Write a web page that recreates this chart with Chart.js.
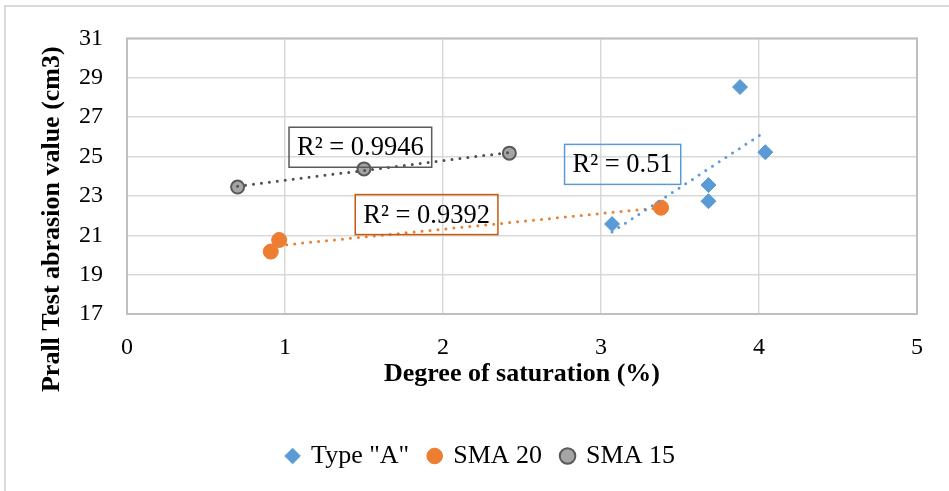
<!DOCTYPE html>
<html>
<head>
<meta charset="utf-8">
<script src="https://cdn.jsdelivr.net/npm/chart.js@4/dist/chart.umd.min.js"></script>
<style>html,body{margin:0;padding:0;background:#fff}</style>
</head>
<body>
<canvas id="c" width="949" height="491"></canvas>
<script>
// ---- data ----
const seriesNames = ['Type "A"', 'SMA 20', 'SMA 15'];
const typeA_x = [3.07, 3.68, 3.68, 3.88, 4.04];
const typeA_y = [21.57, 23.55, 22.73, 28.53, 25.22];
const sma20_x = [0.91, 0.963, 3.38];
const sma20_y = [20.17, 20.76, 22.40];
const sma15_x = [0.70, 1.50, 2.42];
const sma15_y = [23.45, 24.37, 25.17];
const r2Labels = ['R² = 0.51', 'R² = 0.9392', 'R² = 0.9946'];
const xTicks = [0, 1, 2, 3, 4, 5];
const yTicks = [17, 19, 21, 23, 25, 27, 29, 31];
const xTitle = 'Degree of saturation (%)';
const yTitle = 'Prall Test abrasion value (cm3)';

// ---- styling / placement (not data) ----
const FONT = '"Liberation Serif", "Times New Roman", serif';
const colors = ['#5B9BD5', '#ED7D31', '#A5A5A5'];
const trendColors = ['#5B9BD5', '#ED7D31', '#505050'];
const boxColors = ['#5B9BD5', '#C55A11', '#595959'];
const labelAnchors = [{x: 3.137, y: 24.60}, {x: 1.896, y: 22.05}, {x: 1.477, y: 25.47}];

function pts(xs, ys) { return xs.map((x, i) => ({x: x, y: ys[i]})); }
function trend(xs, ys) {
  const n = xs.length;
  const mx = xs.reduce((a, b) => a + b, 0) / n;
  const my = ys.reduce((a, b) => a + b, 0) / n;
  let sxy = 0, sxx = 0;
  for (let i = 0; i < n; i++) { sxy += (xs[i] - mx) * (ys[i] - my); sxx += (xs[i] - mx) ** 2; }
  const b = sxy / sxx, a = my - b * mx;
  const x0 = Math.min(...xs), x1 = Math.max(...xs);
  return [{x: x0, y: a + b * x0}, {x: x1, y: a + b * x1}];
}

const allX = [typeA_x, sma20_x, sma15_x];
const allY = [typeA_y, sma20_y, sma15_y];

const datasets = [
  {label: seriesNames[0], data: pts(typeA_x, typeA_y), pointStyle: 'rectRot', pointRadius: 7.5,
   backgroundColor: colors[0], borderColor: colors[0], borderWidth: 1, order: 10},
  {label: seriesNames[1], data: pts(sma20_x, sma20_y), pointStyle: 'circle', pointRadius: 7.5,
   backgroundColor: colors[1], borderColor: colors[1], borderWidth: 1, order: 10},
  {label: seriesNames[2], data: pts(sma15_x, sma15_y), pointStyle: 'circle', pointRadius: 6.5,
   backgroundColor: colors[2], borderColor: '#595959', borderWidth: 2, order: 10}
];
for (let i = 0; i < 3; i++) {
  datasets.push({
    label: 'trend' + i, data: trend(allX[i], allY[i]), showLine: true, pointRadius: 0, pointHoverRadius: 0,
    borderColor: trendColors[i], borderWidth: 3, borderDash: [0, 8], borderCapStyle: 'round',
    fill: false, order: 0
  });
}

const framePlugin = {
  id: 'frame',
  beforeDraw(chart) {
    const ctx = chart.ctx;
    ctx.save();
    ctx.fillStyle = '#fff';
    ctx.fillRect(0, 0, chart.width, chart.height);
    ctx.strokeStyle = '#D9D9D9';
    ctx.lineWidth = 2;
    ctx.strokeRect(5, 6, chart.width + 20, chart.height + 20);
    ctx.restore();
  },
  beforeDatasetsDraw(chart) {
    const a = chart.chartArea, ctx = chart.ctx;
    ctx.save();
    ctx.strokeStyle = '#BFBFBF';
    ctx.lineWidth = 2;
    ctx.strokeRect(a.left, a.top, a.right - a.left, a.bottom - a.top);
    ctx.restore();
    // y axis title
    const ys = chart.scales.y;
    ctx.save();
    ctx.translate(52, (ys.top + ys.bottom) / 2 + 43);
    ctx.rotate(-Math.PI / 2);
    ctx.font = 'bold 26px ' + FONT;
    ctx.fillStyle = '#000';
    ctx.textAlign = 'center';
    ctx.textBaseline = 'middle';
    ctx.fillText(yTitle, 0, 0);
    ctx.restore();
  },
  afterDatasetsDraw(chart) {
    const ctx = chart.ctx, xs = chart.scales.x, ys = chart.scales.y;
    ctx.save();
    ctx.font = '26.5px ' + FONT;
    ctx.textAlign = 'center';
    ctx.textBaseline = 'middle';
    for (let i = 0; i < r2Labels.length; i++) {
      const cx = xs.getPixelForValue(labelAnchors[i].x);
      const cy = ys.getPixelForValue(labelAnchors[i].y);
      const w = ctx.measureText(r2Labels[i]).width + 16;
      const h = 40;
      ctx.strokeStyle = boxColors[i];
      ctx.lineWidth = 1.5;
      ctx.strokeRect(cx - w / 2, cy - h / 2, w, h);
      ctx.fillStyle = '#000';
      ctx.fillText(r2Labels[i], cx, cy + 1);
    }
    ctx.restore();
  }
};

new Chart(document.getElementById('c'), {
  type: 'scatter',
  data: {datasets: datasets},
  plugins: [framePlugin],
  options: {
    responsive: false,
    animation: false,
    events: [],
    layout: {padding: {left: 45, right: 32, top: 36, bottom: 12}},
    plugins: {
      tooltip: {enabled: false},
      legend: {
        position: 'bottom',
        labels: {
          filter: item => item.datasetIndex < 3,
          usePointStyle: true, boxWidth: 11, boxHeight: 11, padding: 20,
          color: '#000', font: {family: FONT, size: 26}
        }
      }
    },
    scales: {
      x: {
        type: 'linear', min: xTicks[0], max: xTicks[xTicks.length - 1],
        afterBuildTicks: s => { s.ticks = xTicks.map(v => ({value: v})); },
        afterFit: s => { s.height = 109; },
        grid: {color: '#D9D9D9', lineWidth: 1.5, drawTicks: false},
        border: {display: false},
        ticks: {color: '#000', padding: 19, font: {family: FONT, size: 24}},
        title: {display: true, text: xTitle, color: '#000', padding: {top: 0, bottom: 36},
                font: {family: FONT, size: 26, weight: 'bold', lineHeight: 1}}
      },
      y: {
        type: 'linear', min: yTicks[0], max: yTicks[yTicks.length - 1],
        afterBuildTicks: s => { s.ticks = yTicks.map(v => ({value: v})); },
        afterFit: s => { s.width = 82; },
        grid: {color: '#D9D9D9', lineWidth: 1.5, drawTicks: false},
        border: {display: false},
        ticks: {color: '#000', padding: 24, font: {family: FONT, size: 24}},
        title: {display: false}
      }
    }
  }
});
</script>
</body>
</html>
